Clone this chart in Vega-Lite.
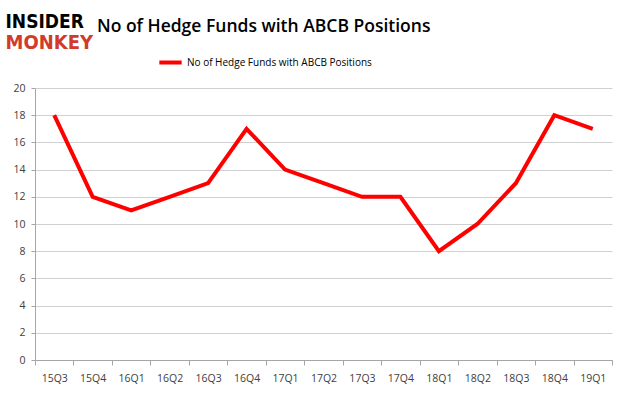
{
  "$schema": "https://vega.github.io/schema/vega-lite/v6.json",
  "width": 577,
  "height": 272,
  "autosize": "none",
  "padding": {"left": 35, "top": 88, "right": 13, "bottom": 35},
  "background": "white",
  "title": {
    "text": "No of Hedge Funds with ABCB Positions",
    "anchor": "start",
    "dx": 92,
    "offset": -37,
    "baseline": "alphabetic",
    "font": "Open Sans",
    "fontSize": 17.5,
    "fontWeight": 600,
    "color": "#000000"
  },
  "data": {
    "values": [
      {"q": "15Q3", "n": 18},
      {"q": "15Q4", "n": 12},
      {"q": "16Q1", "n": 11},
      {"q": "16Q2", "n": 12},
      {"q": "16Q3", "n": 13},
      {"q": "16Q4", "n": 17},
      {"q": "17Q1", "n": 14},
      {"q": "17Q2", "n": 13},
      {"q": "17Q3", "n": 12},
      {"q": "17Q4", "n": 12},
      {"q": "18Q1", "n": 8},
      {"q": "18Q2", "n": 10},
      {"q": "18Q3", "n": 13},
      {"q": "18Q4", "n": 18},
      {"q": "19Q1", "n": 17}
    ]
  },
  "mark": {"type": "line", "color": "#ff0000", "strokeWidth": 4},
  "encoding": {
    "x": {
      "field": "q",
      "type": "ordinal",
      "scale": {"type": "band", "paddingInner": 0, "paddingOuter": 0},
      "axis": {
        "title": "MONKEY",
        "titleAngle": 0,
        "titleX": -30,
        "titleY": -312,
        "titleAlign": "left",
        "titleBaseline": "alphabetic",
        "titleColor": "#d13b2a",
        "titleFont": "DejaVu Sans Condensed",
        "titleFontSize": 20,
        "titleFontWeight": "bold",
        "labelAngle": 0,
        "labelFont": "Open Sans",
        "labelFontSize": 10.5,
        "labelColor": "#404040",
        "labelPadding": 8,
        "tickBand": "extent",
        "tickSize": 5,
        "tickColor": "#a6a6a6",
        "domainColor": "#a6a6a6",
        "grid": false
      }
    },
    "y": {
      "field": "n",
      "type": "quantitative",
      "scale": {"domain": [0, 20]},
      "axis": {
        "title": "INSIDER",
        "titleAngle": 0,
        "titleX": -30,
        "titleY": -61,
        "titleAlign": "left",
        "titleBaseline": "alphabetic",
        "titleColor": "#000000",
        "titleFont": "DejaVu Sans Condensed",
        "titleFontSize": 19,
        "titleFontWeight": "bold",
        "values": [0, 2, 4, 6, 8, 10, 12, 14, 16, 18, 20],
        "labelFont": "Open Sans",
        "labelFontSize": 10.5,
        "labelColor": "#404040",
        "labelPadding": 6,
        "tickSize": 4,
        "tickColor": "#a6a6a6",
        "domainColor": "#a6a6a6",
        "gridColor": "#d0d0d0"
      }
    },
    "color": {
      "datum": "No of Hedge Funds with ABCB Positions",
      "scale": {"range": ["#ff0000"]},
      "legend": {
        "title": null,
        "orient": "none",
        "legendX": 122,
        "legendY": -39,
        "symbolType": "stroke",
        "symbolStrokeWidth": 4,
        "symbolSize": 500,
        "labelOffset": 3,
        "labelFont": "Open Sans",
        "labelFontSize": 10,
        "labelLimit": 400,
        "labelColor": "#000000"
      }
    }
  },
  "config": {
    "view": {"stroke": null}
  }
}
